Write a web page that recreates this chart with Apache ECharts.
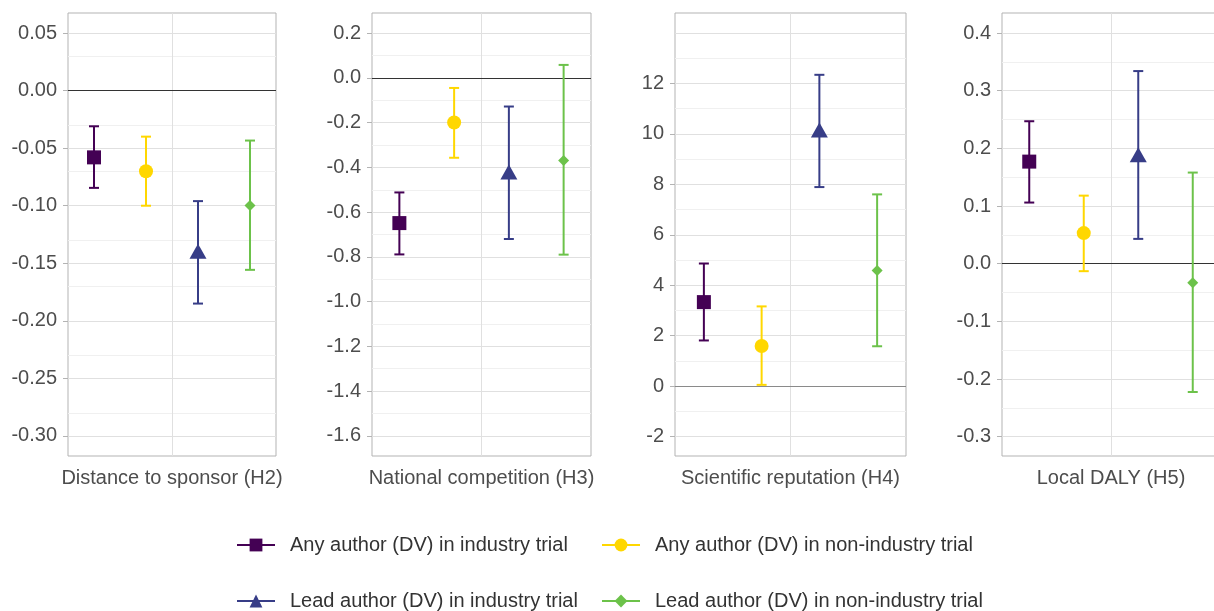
<!DOCTYPE html>
<html lang="en">
<head>
    <meta charset="UTF-8">
    <title>Author effects by hypothesis</title>
    <script src="https://cdn.jsdelivr.net/npm/echarts@6.0.0/dist/echarts.min.js"></script>
    <style>
        html, body { margin: 0; padding: 0; background: #fff; }
        #chart { width: 1214px; height: 611px; }
    </style>
</head>
<body>
<div id="chart"></div>
<script>
    // panels (one per hypothesis) and the four model groups
    var panels = ['Distance to sponsor (H2)', 'National competition (H3)', 'Scientific reputation (H4)', 'Local DALY (H5)'];
    var groups = ['Any author (DV) in industry trial', 'Any author (DV) in non-industry trial',
        'Lead author (DV) in industry trial', 'Lead author (DV) in non-industry trial'];

    // estimates and confidence bounds, one value per panel
    var anyInd = [-0.058, -0.649, 3.33, 0.177];
    var anyIndLo = [-0.0845, -0.789, 1.81, 0.106];
    var anyIndHi = [-0.031, -0.512, 4.86, 0.247];

    var anyNon = [-0.070, -0.1995, 1.59, 0.053];
    var anyNonLo = [-0.100, -0.357, 0.05, -0.013];
    var anyNonHi = [-0.040, -0.045, 3.16, 0.118];

    var leadInd = [-0.1395, -0.421, 10.15, 0.189];
    var leadIndLo = [-0.185, -0.720, 7.89, 0.043];
    var leadIndHi = [-0.096, -0.128, 12.34, 0.334];

    var leadNon = [-0.0998, -0.369, 4.58, -0.033];
    var leadNonLo = [-0.1557, -0.790, 1.58, -0.2225];
    var leadNonHi = [-0.0434, 0.058, 7.60, 0.158];

    // y tick labels per panel
    var yTicks1 = [-0.30, -0.25, -0.20, -0.15, -0.10, -0.05, 0, 0.05];
    var yTicks2 = [-1.6, -1.4, -1.2, -1.0, -0.8, -0.6, -0.4, -0.2, 0, 0.2];
    var yTicks3 = [-2, 0, 2, 4, 6, 8, 10, 12];
    var yTicks4 = [-0.3, -0.2, -0.1, 0, 0.1, 0.2, 0.3, 0.4];

    var est = [anyInd, anyNon, leadInd, leadNon];
    var lo = [anyIndLo, anyNonLo, leadIndLo, leadNonLo];
    var hi = [anyIndHi, anyNonHi, leadIndHi, leadNonHi];
    var yTicks = [yTicks1, yTicks2, yTicks3, yTicks4];

    // layout / styling
    var yMin = [-0.3174, -1.69, -2.77, -0.3335];
    var yMax = [0.0674, 0.29, 14.79, 0.4347];
    var yStep = [0.05, 0.2, 2, 0.1];
    var yDec = [2, 1, 0, 1];
    var extraGrid = [[], [], [14], []];
    var zeroColor = ['#333333', '#333333', '#8a8a8a', '#333333'];
    var panelLeft = [68, 372, 675, 1002];
    var panelWidth = [208, 219, 231, 218];
    var xPos = [0.125, 0.375, 0.625, 0.875];
    var colors = ['#440154', '#FFD700', '#373D87', '#6CC24A'];
    var symbols = ['rect', 'circle', 'triangle', 'diamond'];
    var symbolSizes = [14, 14, [17, 15], 11];
    var font = 'Liberation Sans, Arial, sans-serif';

    function minorLines(p) {
        var major = yTicks[p].concat(extraGrid[p]);
        var a = Math.min.apply(null, major), b = Math.max.apply(null, major);
        var out = [];
        for (var v = a - yStep[p] / 2; v <= b + yStep[p] / 2 + 1e-9; v += yStep[p]) {
            var r = +v.toFixed(6);
            if (r > yMin[p] && r < yMax[p]) out.push(r);
        }
        return out;
    }

    var grid = [], xAxis = [], yAxis = [], series = [];

    panels.forEach(function (name, p) {
        grid.push({
            left: panelLeft[p], width: panelWidth[p], top: 13, height: 443,
            outerBoundsMode: 'none', containLabel: false,
            show: true, borderColor: '#b3b3b3', borderWidth: 1, backgroundColor: 'transparent'
        });
        xAxis.push({
            gridIndex: p, type: 'value', min: 0, max: 1,
            axisLine: {show: false},
            axisTick: {show: true, length: 5, lineStyle: {color: '#b3b3b3'}, customValues: [0.5]},
            axisLabel: {
                customValues: [0.5], margin: 12, fontSize: 20, color: '#4d4d4d', fontFamily: font,
                formatter: function () { return name; }
            },
            splitLine: {show: false}
        });
        yAxis.push({
            gridIndex: p, type: 'value', min: yMin[p], max: yMax[p],
            axisLine: {show: false},
            axisTick: {show: true, length: 5, lineStyle: {color: '#b3b3b3'}, customValues: yTicks[p]},
            axisLabel: {
                customValues: yTicks[p], margin: 11, fontSize: 20, color: '#4d4d4d', fontFamily: font,
                formatter: function (v) { return v.toFixed(yDec[p]); }
            },
            splitLine: {show: false}
        });

        // background lines of the panel
        var lines = [];
        minorLines(p).forEach(function (v) {
            lines.push({yAxis: v, lineStyle: {color: '#f0f0f0', width: 1, type: 'solid'}});
        });
        yTicks[p].concat(extraGrid[p]).forEach(function (v) {
            if (v !== 0) lines.push({yAxis: v, lineStyle: {color: '#e0e0e0', width: 1, type: 'solid'}});
        });
        lines.push({xAxis: 0.5, lineStyle: {color: '#e0e0e0', width: 1, type: 'solid'}});
        lines.push({yAxis: 0, lineStyle: {color: zeroColor[p], width: 1, type: 'solid'}});
        series.push({
            type: 'scatter', xAxisIndex: p, yAxisIndex: p, data: [[0.5, 0]], symbolSize: 0,
            silent: true, z: 1,
            markLine: {
                silent: true, symbol: 'none', label: {show: false}, animation: false, z: 1,
                lineStyle: {type: 'solid'}, emphasis: {disabled: true}, data: lines
            }
        });

        groups.forEach(function (g, k) {
            series.push({
                type: 'custom', name: g, xAxisIndex: p, yAxisIndex: p, z: 3,
                data: [[xPos[k], lo[k][p], hi[k][p]]],
                encode: {x: 0, y: [1, 2]},
                renderItem: function (params, api) {
                    var top = api.coord([api.value(0), api.value(2)]);
                    var bot = api.coord([api.value(0), api.value(1)]);
                    var st = {stroke: colors[k], lineWidth: 2};
                    return {
                        type: 'group', children: [
                            {type: 'line', shape: {x1: top[0], y1: top[1], x2: bot[0], y2: bot[1]}, style: st},
                            {type: 'line', shape: {x1: top[0] - 5, y1: top[1], x2: top[0] + 5, y2: top[1]}, style: st},
                            {type: 'line', shape: {x1: bot[0] - 5, y1: bot[1], x2: bot[0] + 5, y2: bot[1]}, style: st}
                        ]
                    };
                }
            });
            series.push({
                type: 'scatter', name: g, xAxisIndex: p, yAxisIndex: p, z: 4,
                symbol: symbols[k], symbolSize: symbolSizes[k],
                itemStyle: {color: colors[k], opacity: 1},
                data: [[xPos[k], est[k][p]]]
            });
        });
    });

    // legend-only line series (first with each name, so the legend uses line + marker icons)
    var legendSeries = groups.map(function (g, k) {
        return {
            type: 'line', name: g, xAxisIndex: 0, yAxisIndex: 0, data: [],
            symbol: symbols[k], color: colors[k], lineStyle: {color: colors[k], width: 2},
            itemStyle: {color: colors[k]}
        };
    });

    var legendPos = [[236, 535], [601, 535], [236, 591], [601, 591]];
    var legend = groups.map(function (g, k) {
        return {
            data: [g], left: legendPos[k][0], top: legendPos[k][1], padding: 0,
            itemWidth: 38, itemHeight: 16, selectedMode: false,
            textStyle: {fontSize: 20, color: '#333333', fontFamily: font, padding: [0, 0, 0, 10]}
        };
    });

    var chart = echarts.init(document.getElementById('chart'));
    chart.setOption({
        animation: false,
        grid: grid,
        xAxis: xAxis,
        yAxis: yAxis,
        legend: legend,
        series: legendSeries.concat(series)
    });
</script>
</body>
</html>
